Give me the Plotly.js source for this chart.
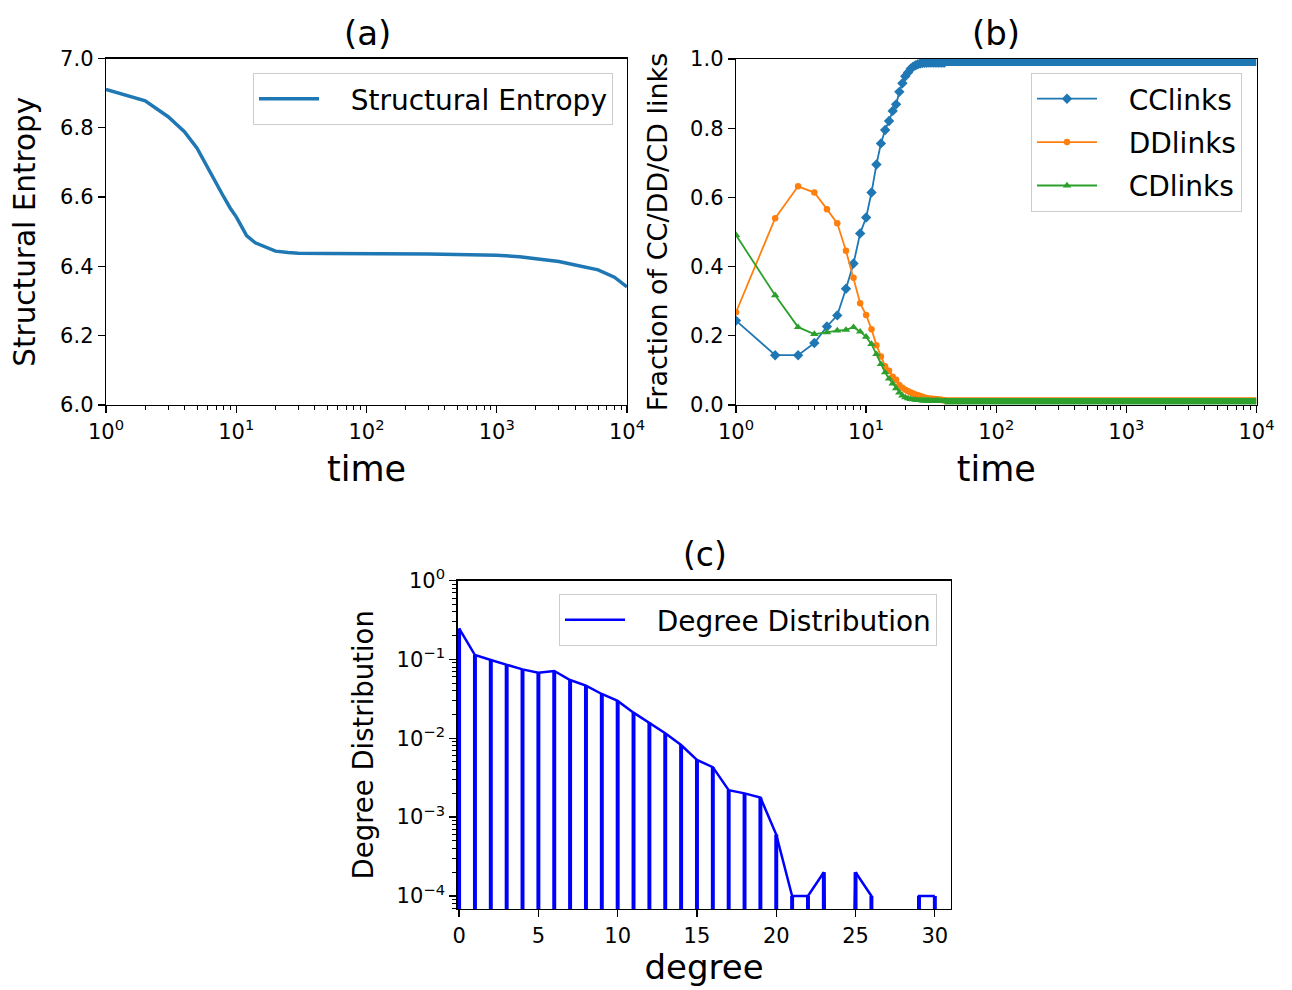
<!DOCTYPE html>
<html>
<head>
<meta charset="utf-8">
<script src="https://cdn.plot.ly/plotly-3.0.1.min.js"></script>
<style>html,body{margin:0;padding:0;background:#fff;}#chart{width:1292px;height:990px;}</style>
</head>
<body>
<div id="chart"></div>
<script>
// ---------- Panel (a): structural entropy ----------
const entropyTime = [1, 2, 3, 4, 5, 6, 7, 8, 9, 10, 11, 12, 14, 16, 20, 25, 30, 50, 100, 300, 1000, 1500, 2000, 3000, 4000, 5000, 6000, 8000, 10000];
const entropyValue = [6.911, 6.878, 6.832, 6.789, 6.741, 6.685, 6.640, 6.601, 6.568, 6.543, 6.515, 6.489, 6.468, 6.458, 6.444, 6.440, 6.438, 6.437, 6.437, 6.436, 6.432, 6.428, 6.422, 6.414, 6.404, 6.396, 6.390, 6.369, 6.341];

// ---------- Panel (b): fractions of link types ----------
const linkTime = [1, 2, 3, 4, 5, 6, 7, 8, 9, 10, 11, 12, 13, 14, 15, 16, 17, 18, 19, 20,
                  21, 22, 23, 24, 25, 26, 27, 28, 29, 30, 31, 32, 33, 34, 35, 36, 37, 38, 39, 40];
const ccLinks = [0.244, 0.144, 0.144, 0.179, 0.227, 0.259, 0.336, 0.409, 0.496, 0.542,
                 0.614, 0.695, 0.756, 0.795, 0.821, 0.850, 0.869, 0.905, 0.930, 0.950,
                 0.961, 0.972, 0.978, 0.982, 0.985, 0.987, 0.988, 0.989, 0.989, 0.990,
                 0.990, 0.990, 0.990, 0.990, 0.990, 0.990, 0.990, 0.990, 0.990, 0.990];
const ddLinks = [0.268, 0.540, 0.632, 0.614, 0.566, 0.525, 0.446, 0.368, 0.294, 0.260,
                 0.219, 0.173, 0.140, 0.112, 0.099, 0.082, 0.073, 0.058, 0.050, 0.044,
                 0.040, 0.036, 0.033, 0.030, 0.028, 0.026, 0.024, 0.022, 0.020, 0.019,
                 0.018, 0.018, 0.017, 0.017, 0.016, 0.016, 0.015, 0.015, 0.014, 0.014];
const cdLinks = [0.491, 0.317, 0.225, 0.205, 0.210, 0.215, 0.217, 0.225, 0.212, 0.197,
                 0.176, 0.147, 0.118, 0.094, 0.076, 0.062, 0.048, 0.036, 0.027, 0.022,
                 0.019, 0.017, 0.016, 0.015, 0.014, 0.014, 0.013, 0.013, 0.013, 0.013,
                 0.012, 0.012, 0.012, 0.012, 0.012, 0.012, 0.011, 0.011, 0.011, 0.011];
// long plateau (markers merge into a solid band)
const plateauTime = [40, 100, 1000, 10000];
const ccPlateau = [0.990, 0.990, 0.990, 0.990];
const ddPlateau = [0.013, 0.013, 0.013, 0.013];
const cdPlateau = [0.011, 0.011, 0.011, 0.011];

// ---------- Panel (c): degree distribution ----------
const degree = [0, 1, 2, 3, 4, 5, 6, 7, 8, 9, 10, 11, 12, 13, 14, 15, 16, 17, 18, 19, 20,
                21, 22, 23, 24, 25, 26, 27, 28, 29, 30];
const degreeDist = [0.247, 0.1135, 0.098, 0.0848, 0.0747, 0.0677, 0.0712, 0.0547, 0.0464, 0.0364, 0.0297,
                    0.0211, 0.0158, 0.0116, 0.0082, 0.0053, 0.0043, 0.0022, 0.0020, 0.00177, 0.0006,
                    0.0001, 0.0001, 0.0002, 0, 0.0002, 0.0001, 0, 0, 0.0001, 0.0001];

// tick labels
const logTimeTicks = [1, 10, 100, 1000, 10000];
const logTimeLabels = ['10<sup>0</sup>', '10<sup>1</sup>', '10<sup>2</sup>', '10<sup>3</sup>', '10<sup>4</sup>'];
const distTicks = [1e-4, 1e-3, 1e-2, 1e-1, 1];
const distLabels = ['10<sup>\u22124</sup>', '10<sup>\u22123</sup>', '10<sup>\u22122</sup>', '10<sup>\u22121</sup>', '10<sup>0</sup>'];

// minor tick positions for log axes
function minorLog(lo, hi) {
  const v = [];
  for (let e = lo; e <= hi; e++) for (let m = 2; m <= 9; m++) v.push(m * Math.pow(10, e));
  return v;
}

const FONT = 'DejaVu Sans, Verdana, sans-serif';
const C_BLUE = '#1f77b4', C_ORANGE = '#ff7f0e', C_GREEN = '#2ca02c';
const GAP = '\u00a0\u00a0\u00a0';

const traces = [
  {x: entropyTime, y: entropyValue, type: 'scatter', mode: 'lines', name: GAP + 'Structural Entropy',
   line: {color: C_BLUE, width: 3.5}, xaxis: 'x', yaxis: 'y', legend: 'legend'},

  {x: linkTime, y: ccLinks, type: 'scatter', mode: 'lines+markers', name: GAP + 'CClinks',
   line: {color: C_BLUE, width: 1.8}, marker: {symbol: 'diamond', size: 8, color: C_BLUE},
   xaxis: 'x2', yaxis: 'y2', legend: 'legend2', legendgroup: 'cc'},
  {x: plateauTime, y: ccPlateau, type: 'scatter', mode: 'lines', showlegend: false,
   line: {color: C_BLUE, width: 7}, xaxis: 'x2', yaxis: 'y2', legendgroup: 'cc'},
  {x: linkTime, y: ddLinks, type: 'scatter', mode: 'lines+markers', name: GAP + 'DDlinks',
   line: {color: C_ORANGE, width: 1.8}, marker: {symbol: 'circle', size: 6.5, color: C_ORANGE},
   xaxis: 'x2', yaxis: 'y2', legend: 'legend2', legendgroup: 'dd'},
  {x: plateauTime, y: ddPlateau, type: 'scatter', mode: 'lines', showlegend: false,
   line: {color: C_ORANGE, width: 6.5}, xaxis: 'x2', yaxis: 'y2', legendgroup: 'dd'},
  {x: linkTime, y: cdLinks, type: 'scatter', mode: 'lines+markers', name: GAP + 'CDlinks',
   line: {color: C_GREEN, width: 1.8}, marker: {symbol: 'triangle-up', size: 7.5, color: C_GREEN},
   xaxis: 'x2', yaxis: 'y2', legend: 'legend2', legendgroup: 'cd'},
  {x: plateauTime, y: cdPlateau, type: 'scatter', mode: 'lines', showlegend: false,
   line: {color: C_GREEN, width: 6.5}, xaxis: 'x2', yaxis: 'y2', legendgroup: 'cd'},

  {x: degree, y: degreeDist, type: 'bar', width: 0.25, showlegend: false,
   marker: {color: '#0000ff', line: {width: 0}}, xaxis: 'x3', yaxis: 'y3'},
  // zero probabilities drop to the bottom of the log axis, as in the original
  {x: degree, y: degreeDist.map(v => v > 0 ? v : 1e-12), type: 'scatter', mode: 'lines',
   name: GAP + 'Degree Distribution', line: {color: '#0000ff', width: 2.5},
   xaxis: 'x3', yaxis: 'y3', legend: 'legend3'}
];

const W = 1292, H = 990;
const px = v => v / W, py = v => 1 - v / H;

const tickFont = {family: FONT, size: 21, color: '#000'};
function baseAxis(extra) {
  return Object.assign({
    showline: true, linecolor: '#000', linewidth: 1.3, mirror: true,
    ticks: 'outside', ticklen: 7, tickwidth: 1.3, tickcolor: '#000',
    showgrid: false, zeroline: false, tickfont: tickFont
  }, extra);
}
const minorStyle = vals => ({ticks: 'outside', ticklen: 4, tickwidth: 1, tickcolor: '#000',
                             tickmode: 'array', tickvals: vals, showgrid: false});

const legendStyle = {font: {family: FONT, size: 28, color: '#000'}, bgcolor: 'rgba(255,255,255,0.85)',
                     bordercolor: '#cccccc', borderwidth: 1, xanchor: 'right', yanchor: 'top',
                     itemwidth: 60, tracegroupgap: 4};

const layout = {
  width: W, height: H,
  margin: {l: 0, r: 0, t: 0, b: 0},
  paper_bgcolor: '#fff', plot_bgcolor: '#fff',
  font: {family: FONT, color: '#000'},
  showlegend: true,
  xaxis: baseAxis({type: 'log', range: [0, 4], domain: [px(106), px(627)], anchor: 'y',
    tickmode: 'array', tickvals: logTimeTicks, ticktext: logTimeLabels,
    minor: minorStyle(minorLog(0, 3)),
    title: {text: 'time', font: {family: FONT, size: 35}, standoff: 14}}),
  yaxis: baseAxis({range: [6, 7], domain: [py(405), py(58.5)], anchor: 'x',
    tickmode: 'linear', tick0: 6, dtick: 0.2, tickformat: '.1f',
    title: {text: 'Structural Entropy', font: {family: FONT, size: 29.5}, standoff: 15}}),
  xaxis2: baseAxis({type: 'log', range: [0, 4], domain: [px(736), px(1256.5)], anchor: 'y2',
    tickmode: 'array', tickvals: logTimeTicks, ticktext: logTimeLabels,
    minor: minorStyle(minorLog(0, 3)),
    title: {text: 'time', font: {family: FONT, size: 35}, standoff: 14}}),
  yaxis2: baseAxis({range: [0, 1], domain: [py(405), py(59)], anchor: 'x2',
    tickmode: 'linear', tick0: 0, dtick: 0.2, tickformat: '.1f',
    title: {text: 'Fraction of CC/DD/CD links', font: {family: FONT, size: 27}, standoff: 14}}),
  xaxis3: baseAxis({range: [-0.1, 31], domain: [px(457.5), px(950.7)], anchor: 'y3',
    tickmode: 'linear', tick0: 0, dtick: 5,
    title: {text: 'degree', font: {family: FONT, size: 34}, standoff: 8}}),
  yaxis3: baseAxis({type: 'log', range: [-4.165, 0], domain: [py(909), py(580.5)], anchor: 'x3',
    tickmode: 'array', tickvals: distTicks, ticktext: distLabels,
    minor: minorStyle(minorLog(-5, -1).filter(v => v > 6.9e-5)),
    title: {text: 'Degree Distribution', font: {family: FONT, size: 27.5}, standoff: 15}}),
  legend: Object.assign({}, legendStyle, {x: px(613), y: py(73)}),
  legend2: Object.assign({}, legendStyle, {x: px(1242), y: py(73)}),
  legend3: Object.assign({}, legendStyle, {x: px(937), y: py(594)}),
  annotations: [
    {text: '(a)', x: px(367), y: py(33), xref: 'paper', yref: 'paper', showarrow: false,
     xanchor: 'center', yanchor: 'middle', font: {family: FONT, size: 34, color: '#000'}},
    {text: '(b)', x: px(996), y: py(33), xref: 'paper', yref: 'paper', showarrow: false,
     xanchor: 'center', yanchor: 'middle', font: {family: FONT, size: 34, color: '#000'}},
    {text: '(c)', x: px(705), y: py(554), xref: 'paper', yref: 'paper', showarrow: false,
     xanchor: 'center', yanchor: 'middle', font: {family: FONT, size: 33, color: '#000'}}
  ]
};

Plotly.newPlot('chart', traces, layout, {staticPlot: true, displayModeBar: false});
</script>
</body>
</html>
